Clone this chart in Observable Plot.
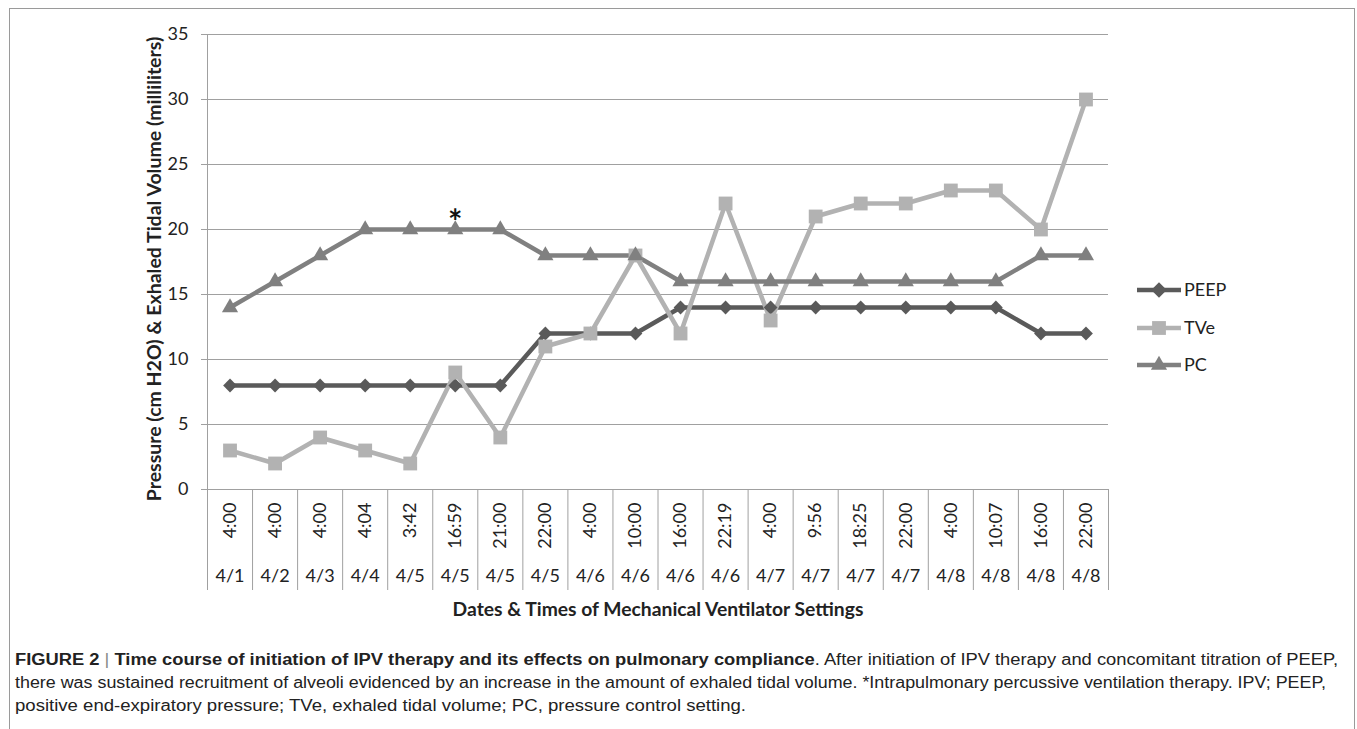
<!DOCTYPE html>
<html>
<head>
<meta charset="utf-8">
<script src="https://cdn.jsdelivr.net/npm/d3@7"></script>
<script src="https://cdn.jsdelivr.net/npm/@observablehq/plot@0.6"></script>
<style>
  html, body { margin: 0; padding: 0; background: #fff; width: 1357px; height: 729px; overflow: hidden; }
  #frame { position: absolute; left: 9px; top: 8px; width: 1346px; height: 760px; border: 1px solid #9a9a9a; box-sizing: border-box; }
  #chart { position: absolute; left: 0; top: 0; }
  #overlay { position: absolute; left: 0; top: 0; }
</style>
</head>
<body>
<div id="frame"></div>
<div id="chart"></div>
<svg id="overlay" width="1357" height="729"></svg>
<script>
// ---- data ----
const times = ["4:00","4:00","4:00","4:04","3:42","16:59","21:00","22:00","4:00","10:00","16:00","22:19","4:00","9:56","18:25","22:00","4:00","10:07","16:00","22:00"];
const dates = ["4/1","4/2","4/3","4/4","4/5","4/5","4/5","4/5","4/6","4/6","4/6","4/6","4/7","4/7","4/7","4/7","4/8","4/8","4/8","4/8"];
const peep = [8,8,8,8,8,8,8,12,12,12,14,14,14,14,14,14,14,14,12,12];
const tve  = [3,2,4,3,2,9,4,11,12,18,12,22,13,21,22,22,23,23,20,30];
const pc   = [14,16,18,20,20,20,20,18,18,18,16,16,16,16,16,16,16,16,18,18];
const seriesNames = ["PEEP","TVe","PC"];
const seriesColors = ["#5a5a5a","#b2b2b2","#808080"];
const seriesSymbols = ["diamond2","square","triangle"];
const yTicks = [0,5,10,15,20,25,30,35];
const ipvIndex = 5; // *Intrapulmonary percussive ventilation therapy start
const yTitle = "Pressure (cm H2O) & Exhaled Tidal Volume (milliliters)";
const xTitle = "Dates & Times of Mechanical Ventilator Settings";

const seriesValues = [peep, tve, pc];
const rows = [];
seriesValues.forEach((vals, s) => vals.forEach((v, i) => rows.push({i, pos: i + 0.5, value: v, series: seriesNames[s]})));
const positions = times.map((t, i) => i + 0.5);
const bounds = d3.range(times.length + 1);

const font = "Lato, 'Open Sans', sans-serif";
const textColor = "#222";
const gridColor = "#a0a0a0";
const symbolR = {PEEP: 6.2, TVe: 7.8, PC: 6.0};

const chart = Plot.plot({
  width: 1357,
  height: 620,
  marginLeft: 207,
  marginRight: 249,
  marginTop: 34,
  marginBottom: 131,
  x: {domain: [0, times.length], axis: null, label: null},
  y: {domain: [0, 35], axis: null, label: null},
  color: {domain: seriesNames, range: seriesColors},
  style: {fontFamily: font, color: textColor, background: "transparent", overflow: "visible"},
  marks: [
    Plot.gridY(yTicks, {stroke: gridColor, strokeOpacity: 1}),
    Plot.axisY({ticks: yTicks, tickSize: 6, tickPadding: 13, stroke: gridColor, fill: textColor, fontSize: 18, label: null}),
    Plot.ruleX([0], {stroke: gridColor}),
    Plot.axisX({ticks: bounds, anchor: "bottom", tickSize: 101, tickFormat: () => "", fill: "none", stroke: gridColor, label: null}),
    Plot.line(rows, {x: "pos", y: "value", z: "series", stroke: "series", strokeWidth: 4.5, strokeLinejoin: "miter"}),
    ...seriesNames.map((name, s) =>
      Plot.dot(rows.filter(d => d.series === name), {x: "pos", y: "value", fill: "series", symbol: () => seriesSymbols[s], r: symbolR[name], stroke: "none"})
    ),
    Plot.text(times, {x: (d, i) => positions[i], frameAnchor: "bottom", rotate: -90, textAnchor: "end", lineAnchor: "middle", dy: 13, fontSize: 18, fill: textColor}),
    Plot.text(dates, {x: (d, i) => positions[i], frameAnchor: "bottom", lineAnchor: "middle", dy: 87, fontSize: 18, fill: textColor}),
    Plot.text(["*"], {x: [positions[ipvIndex]], y: [pc[ipvIndex]], dy: -6, fontSize: 34, fontWeight: "bold", fill: "#111", lineAnchor: "middle"}),
    Plot.text([yTitle], {frameAnchor: "left", rotate: -90, dx: -53, dy: 7, textAnchor: "middle", fontWeight: "bold", fontSize: 19.5, fill: textColor, lineAnchor: "middle"}),
    Plot.text([xTitle], {frameAnchor: "bottom", dy: 120, fontWeight: "bold", fontSize: 19.3, fill: textColor, lineAnchor: "middle"})
  ]
});
chart.setAttribute("overflow", "visible");
document.getElementById("chart").appendChild(chart);

// ---- legend & caption ----
const ov = d3.select("#overlay");
const legendY = [290, 328, 365];
const symbolMap = {diamond2: d3.symbolSquare, square: d3.symbolSquare, triangle: d3.symbolTriangle};
seriesNames.forEach((name, s) => {
  const g = ov.append("g").attr("transform", `translate(0,${legendY[s]})`);
  g.append("line").attr("x1", 1137).attr("x2", 1181).attr("y1", 0).attr("y2", 0)
    .attr("stroke", seriesColors[s]).attr("stroke-width", 4.5);
  const r = symbolR[name];
  const sym = seriesSymbols[s];
  const path = d3.symbol(symbolMap[sym], Math.PI * r * r)();
  const m = g.append("path").attr("d", path).attr("fill", seriesColors[s]);
  if (sym === "diamond2") m.attr("transform", "translate(1159,0) rotate(45)");
  else m.attr("transform", "translate(1159,0)");
  g.append("text").attr("x", 1184).attr("y", 0).attr("dy", "0.35em")
    .attr("font-family", font).attr("font-size", 18).attr("fill", textColor).text(name);
});

const capFont = "'Liberation Sans', Arial, sans-serif";
const cap = ov.append("g").attr("font-family", capFont).attr("font-size", 16).attr("fill", "#222");
const l1 = cap.append("text").attr("x", 15).attr("y", 665).attr("textLength", 1323).attr("lengthAdjust", "spacingAndGlyphs");
l1.append("tspan").attr("font-weight", "bold").text("FIGURE 2 ");
l1.append("tspan").attr("fill", "#888").text("| ");
l1.append("tspan").attr("font-weight", "bold").text("Time course of initiation of IPV therapy and its effects on pulmonary compliance");
l1.append("tspan").text(". After initiation of IPV therapy and concomitant titration of PEEP,");
cap.append("text").attr("x", 15).attr("y", 688).attr("textLength", 1311).attr("lengthAdjust", "spacingAndGlyphs")
  .text("there was sustained recruitment of alveoli evidenced by an increase in the amount of exhaled tidal volume. *Intrapulmonary percussive ventilation therapy. IPV; PEEP,");
cap.append("text").attr("x", 15).attr("y", 711).attr("textLength", 731).attr("lengthAdjust", "spacingAndGlyphs")
  .text("positive end-expiratory pressure; TVe, exhaled tidal volume; PC, pressure control setting.");
</script>
</body>
</html>
